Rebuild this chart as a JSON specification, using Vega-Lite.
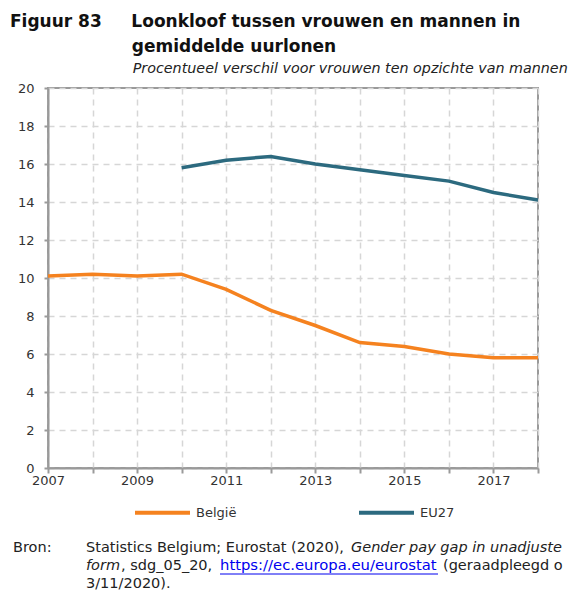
{
  "$schema": "https://vega.github.io/schema/vega-lite/v6.json",
  "background": "white",
  "padding": {"left": 10, "top": 12, "right": 0, "bottom": 0},
  "config": {
    "font": "DejaVu Sans",
    "view": {"stroke": "#9a9a9a", "strokeWidth": 2},
    "title": {"anchor": "start", "frame": "group", "dx": -38, "fontSize": 17, "fontWeight": "bold", "color": "#111", "lineHeight": 25, "subtitleFontSize": 14.3, "subtitleFontStyle": "italic", "subtitleColor": "#222", "subtitlePadding": 6, "offset": 0}
  },
  "title": {
    "text": ["Figuur 83\u00a0\u00a0\u00a0\u00a0\u00a0Loonkloof tussen vrouwen en mannen in", "\u200b\u00a0\u00a0\u00a0\u00a0\u00a0\u00a0\u00a0\u00a0\u00a0\u00a0\u00a0\u00a0\u00a0\u00a0\u00a0\u00a0\u00a0\u00a0\u00a0\u00a0\u2009gemiddelde uurlonen"],
    "subtitle": "\u200b\u00a0\u00a0\u00a0\u00a0\u00a0\u00a0\u00a0\u00a0\u00a0\u00a0\u00a0\u00a0\u00a0\u00a0\u00a0\u00a0\u00a0\u00a0\u00a0\u00a0\u00a0\u00a0\u00a0\u00a0\u00a0\u00a0\u00a0Procentueel verschil voor vrouwen ten opzichte van mannen"
  },
  "spacing": 0,
  "resolve": {"scale": {"color": "independent"}},
  "vconcat": [
    {
      "width": 490,
      "height": 380,
      "data": {"values": [
        {"jaar": 2007, "reeks": "België", "waarde": 10.1},
        {"jaar": 2008, "reeks": "België", "waarde": 10.2},
        {"jaar": 2009, "reeks": "België", "waarde": 10.1},
        {"jaar": 2010, "reeks": "België", "waarde": 10.2},
        {"jaar": 2011, "reeks": "België", "waarde": 9.4},
        {"jaar": 2012, "reeks": "België", "waarde": 8.3},
        {"jaar": 2013, "reeks": "België", "waarde": 7.5},
        {"jaar": 2014, "reeks": "België", "waarde": 6.6},
        {"jaar": 2015, "reeks": "België", "waarde": 6.4},
        {"jaar": 2016, "reeks": "België", "waarde": 6.0},
        {"jaar": 2017, "reeks": "België", "waarde": 5.8},
        {"jaar": 2018, "reeks": "België", "waarde": 5.8},
        {"jaar": 2010, "reeks": "EU27", "waarde": 15.8},
        {"jaar": 2011, "reeks": "EU27", "waarde": 16.2},
        {"jaar": 2012, "reeks": "EU27", "waarde": 16.4},
        {"jaar": 2013, "reeks": "EU27", "waarde": 16.0},
        {"jaar": 2014, "reeks": "EU27", "waarde": 15.7},
        {"jaar": 2015, "reeks": "EU27", "waarde": 15.4},
        {"jaar": 2016, "reeks": "EU27", "waarde": 15.1},
        {"jaar": 2017, "reeks": "EU27", "waarde": 14.5},
        {"jaar": 2018, "reeks": "EU27", "waarde": 14.1}
      ]},
      "mark": {"type": "line", "strokeWidth": 3.5},
      "encoding": {
        "x": {
          "field": "jaar", "type": "quantitative",
          "scale": {"domain": [2007, 2018], "nice": false, "zero": false},
          "axis": {
            "title": null,
            "values": [2007, 2008, 2009, 2010, 2011, 2012, 2013, 2014, 2015, 2016, 2017, 2018],
            "labelExpr": "datum.value % 2 == 1 ? datum.label : ''",
            "format": "d", "labelFlush": false, "labelOverlap": false,
            "grid": true, "gridDash": [6, 5], "gridColor": "#d6d6d6", "gridWidth": 1.5,
            "domainColor": "#9a9a9a", "domainWidth": 2,
            "tickColor": "#9a9a9a", "tickWidth": 2, "tickSize": 5,
            "labelFontSize": 13, "labelColor": "#333", "labelPadding": 1
          }
        },
        "y": {
          "field": "waarde", "type": "quantitative",
          "scale": {"domain": [0, 20], "nice": false},
          "axis": {
            "title": null,
            "values": [0, 2, 4, 6, 8, 10, 12, 14, 16, 18, 20],
            "labelFlush": false,
            "grid": true, "gridDash": [6, 5], "gridColor": "#d6d6d6", "gridWidth": 1.5,
            "domainColor": "#9a9a9a", "domainWidth": 2,
            "tickColor": "#9a9a9a", "tickWidth": 2, "tickSize": 4,
            "labelFontSize": 13, "labelColor": "#333", "labelPadding": 10
          }
        },
        "color": {
          "field": "reeks", "type": "nominal",
          "scale": {"domain": ["België", "EU27"], "range": ["#F5821F", "#2C6A7F"]},
          "legend": {
            "title": null, "orient": "none", "legendX": 85, "legendY": 395, "direction": "horizontal",
            "symbolType": "stroke", "symbolSize": 3025, "symbolStrokeWidth": 4,
            "labelFontSize": 13, "labelColor": "#333", "labelOffset": 4,
            "columnPadding": 114
          }
        }
      }
    },
    {
      "width": 500,
      "height": 50,
      "view": {"stroke": null},
      "data": {"values": [
        {"regel": 1, "kolom": "bron", "deel": "bron", "tekst": "Bron:"},
        {"regel": 1, "kolom": "tekst", "deel": "l1a", "tekst": "Statistics Belgium; Eurostat (2020),"},
        {"regel": 1, "kolom": "tekst", "deel": "l1b", "tekst": "Gender pay gap in unadjusted"},
        {"regel": 2, "kolom": "tekst", "deel": "l2a", "tekst": "form"},
        {"regel": 2, "kolom": "tekst", "deel": "l2b", "tekst": ", sdg_05_20,"},
        {"regel": 2, "kolom": "tekst", "deel": "link", "tekst": "https://ec.europa.eu/eurostat"},
        {"regel": 2, "kolom": "tekst", "deel": "l2d", "tekst": "(geraadpleegd op"},
        {"regel": 3, "kolom": "tekst", "deel": "l3a", "tekst": "3/11/2020)."}
      ]},
      "encoding": {
        "x": {"field": "kolom", "type": "nominal", "scale": {"type": "point", "domain": ["bron", "tekst"], "range": [-35, 38], "padding": 0}, "axis": null},
        "y": {"field": "regel", "type": "ordinal", "scale": {"type": "point", "domain": [1, 2, 3], "range": [26, 62], "padding": 0}, "axis": null}
      },
      "layer": [
        {
          "transform": [{"filter": "indexof(['bron','l1a','l3a'], datum.deel) >= 0"}],
          "mark": {"type": "text", "align": "left", "baseline": "middle", "fontSize": 14.5, "color": "#222"},
          "encoding": {"text": {"field": "tekst"}}
        },
        {
          "transform": [{"filter": "datum.deel == 'l1b'"}],
          "mark": {"type": "text", "align": "left", "baseline": "middle", "fontSize": 14.5, "fontStyle": "italic", "color": "#222", "dx": 265, "limit": 219, "ellipsis": "\u200b"},
          "encoding": {"text": {"field": "tekst"}}
        },
        {
          "transform": [{"filter": "datum.deel == 'l2a'"}],
          "mark": {"type": "text", "align": "left", "baseline": "middle", "fontSize": 14.5, "fontStyle": "italic", "color": "#222"},
          "encoding": {"text": {"field": "tekst"}}
        },
        {
          "transform": [{"filter": "datum.deel == 'l2b'"}],
          "mark": {"type": "text", "align": "left", "baseline": "middle", "fontSize": 14.5, "color": "#222", "dx": 35},
          "encoding": {"text": {"field": "tekst"}}
        },
        {
          "transform": [{"filter": "datum.deel == 'link'"}],
          "mark": {"type": "text", "align": "left", "baseline": "middle", "fontSize": 14.8, "color": "#0000EE", "dx": 134},
          "encoding": {"text": {"field": "tekst"}}
        },
        {
          "transform": [{"filter": "datum.deel == 'link'"}],
          "mark": {"type": "rule", "color": "#0000EE", "strokeWidth": 1, "xOffset": 134, "x2Offset": 352, "yOffset": 8},
          "encoding": {"x2": {"field": "kolom"}}
        },
        {
          "transform": [{"filter": "datum.deel == 'l2d'"}],
          "mark": {"type": "text", "align": "left", "baseline": "middle", "fontSize": 14.5, "color": "#222", "dx": 357, "limit": 127, "ellipsis": "\u200b"},
          "encoding": {"text": {"field": "tekst"}}
        }
      ]
    }
  ]
}
